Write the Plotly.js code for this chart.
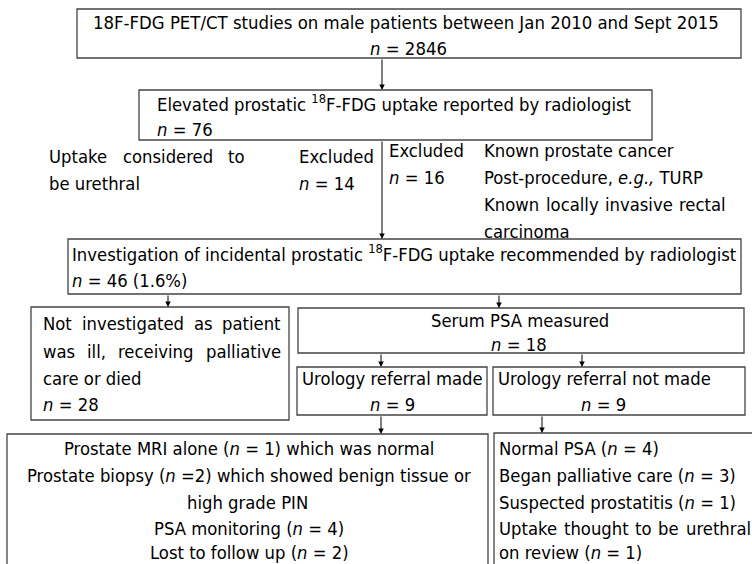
<!DOCTYPE html>
<html><head><meta charset="utf-8">
<script src="https://cdn.plot.ly/plotly-3.0.1.min.js"></script>
<style>html,body{margin:0;padding:0;background:#fff;}</style>
</head><body>
<div id="chart" style="width:752px;height:564px;"></div>
<svg id="meas" width="10" height="10" style="position:absolute;left:-1000px;top:-1000px"><text id="mt" x="0" y="10"></text></svg>
<script>
const totalStudies = 2846;
const elevatedUptake = 76;
const excludedUrethral = 14;
const excludedOther = 16;
const exclusionReasons = ["Known prostate cancer", "Post-procedure, <i>e.g.,</i> TURP", "Known locally invasive rectal", "carcinoma"];
const investigationRecommended = 46;
const investigationPct = "1.6%";
const notInvestigated = 28;
const psaMeasured = 18;
const referralMade = 9;
const referralNotMade = 9;
const referralOutcomeCounts = [1, 2, 4, 2];   // MRI alone, biopsy, PSA monitoring, lost to follow up
const noReferralCounts = [4, 3, 1, 1];        // normal PSA, palliative care, prostatitis, urethral on review

// ---- styling ----
const FAM = '"DejaVu Sans Condensed", "DejaVu Sans", sans-serif';
const SIZE = 18.3;
const TOPSIZE = 18.4;
const BOX = '#444';
const mt = document.getElementById('mt');
mt.setAttribute('style', 'font-family:' + FAM + ';font-size:' + SIZE + 'px');
function measure(s) { mt.textContent = s; return mt.getComputedTextLength(); }

const N = '<i>n</i>';
function txt(x, y, text, anchor, size) {
  return {x: x, y: y, xref: 'x', yref: 'y', text: text, showarrow: false,
          xanchor: anchor || 'left', yanchor: 'middle', borderpad: 0,
          font: {family: FAM, size: size || SIZE, color: '#000'}};
}
function justify(line, x0, x1, y) {
  const words = line.split(' ');
  const w = words.map(measure);
  const total = w.reduce((a, b) => a + b, 0);
  const gap = (x1 - x0 - total) / (words.length - 1);
  let x = x0;
  return words.map((wd, i) => { const a = txt(x, y, wd, 'left'); x += w[i] + gap; return a; });
}
function arrow(x, y0, y1) {
  return {x: x, y: y1, ax: x, ay: y0, xref: 'x', yref: 'y', axref: 'x', ayref: 'y',
          text: '', showarrow: true, arrowhead: 2, arrowsize: 1.1, arrowwidth: 1,
          arrowcolor: '#000', standoff: 0, startstandoff: 0};
}
function rect(x0, y0, x1, y1) {
  return {type: 'rect', xref: 'x', yref: 'y', x0: x0, y0: y0, x1: x1, y1: y1,
          line: {color: BOX, width: 1.3}, fillcolor: 'rgba(0,0,0,0)'};
}

const shapes = [
  rect(77, 9, 741, 58),
  rect(139, 90, 652, 140),
  rect(68, 239, 741, 294),
  rect(31, 307, 289, 420),
  rect(298, 308, 744, 353),
  rect(297, 367, 487, 415),
  rect(493, 367, 745, 415),
  rect(7, 434, 488, 580),
  rect(494, 433, 770, 580)
];

let ann = [];
// box 1
ann.push(txt(406, 22, '18F-FDG PET/CT studies on male patients between Jan 2010 and Sept 2015', 'center', TOPSIZE));
ann.push(txt(408, 48, N + ' = ' + totalStudies, 'center', TOPSIZE));
// box 2
ann.push(txt(156, 103, 'Elevated prostatic <sup>18</sup>F-FDG uptake reported by radiologist'));
ann.push(txt(156, 129, N + ' = ' + elevatedUptake));
// exclusions
ann = ann.concat(justify('Uptake considered to', 48, 244, 156));
ann.push(txt(48, 183, 'be urethral'));
ann.push(txt(298, 156, 'Excluded'));
ann.push(txt(298, 183, N + ' = ' + excludedUrethral));
ann.push(txt(388, 150, 'Excluded'));
ann.push(txt(388, 177, N + ' = ' + excludedOther));
ann.push(txt(483, 150, exclusionReasons[0]));
ann.push(txt(483, 177, exclusionReasons[1]));
ann = ann.concat(justify(exclusionReasons[2], 483, 725, 204));
ann.push(txt(483, 231, exclusionReasons[3]));
// box 3
ann.push(txt(71, 253, 'Investigation of incidental prostatic <sup>18</sup>F-FDG uptake recommended by radiologist'));
ann.push(txt(71, 280, N + ' = ' + investigationRecommended + ' (' + investigationPct + ')'));
// not investigated
ann = ann.concat(justify('Not investigated as patient', 42, 280, 323));
ann = ann.concat(justify('was ill, receiving palliative', 42, 280, 351));
ann.push(txt(42, 378, 'care or died'));
ann.push(txt(42, 404, N + ' = ' + notInvestigated));
// PSA
ann.push(txt(520, 320, 'Serum PSA measured', 'center'));
ann.push(txt(519, 344, N + ' = ' + psaMeasured, 'center'));
ann.push(txt(392, 378, 'Urology referral made', 'center'));
ann.push(txt(392, 404, N + ' = ' + referralMade, 'center'));
ann.push(txt(604, 378, 'Urology referral not made', 'center'));
ann.push(txt(603, 404, N + ' = ' + referralNotMade, 'center'));
// referral outcomes
const rc = referralOutcomeCounts;
ann.push(txt(249, 448, 'Prostate MRI alone (' + N + ' = ' + rc[0] + ') which was normal', 'center'));
ann.push(txt(249, 475, 'Prostate biopsy (' + N + ' =' + rc[1] + ') which showed benign tissue or', 'center'));
ann.push(txt(247, 502, 'high grade PIN', 'center'));
ann.push(txt(249, 528, 'PSA monitoring (' + N + ' = ' + rc[2] + ')', 'center'));
ann.push(txt(249, 552, 'Lost to follow up (' + N + ' = ' + rc[3] + ')', 'center'));
// no referral
const nc = noReferralCounts;
ann.push(txt(498, 448, 'Normal PSA (' + N + ' = ' + nc[0] + ')'));
ann.push(txt(498, 475, 'Began palliative care (' + N + ' = ' + nc[1] + ')'));
ann.push(txt(498, 502, 'Suspected prostatitis (' + N + ' = ' + nc[2] + ')'));
ann = ann.concat(justify('Uptake thought to be urethral', 498, 750, 528));
ann.push(txt(498, 552, 'on review (' + N + ' = ' + nc[3] + ')'));
// arrows
ann.push(arrow(382, 58, 90));
ann.push(arrow(382, 140, 239));
ann.push(arrow(168, 294, 307));
ann.push(arrow(499, 294, 308));
ann.push(arrow(381, 353, 367));
ann.push(arrow(582, 353, 367));
ann.push(arrow(381, 415, 434));
ann.push(arrow(542, 415, 433));

// remove the off-screen measuring element
document.getElementById('meas').remove();

const layout = {
  width: 752, height: 564,
  margin: {l: 0, r: 0, t: 0, b: 0},
  paper_bgcolor: '#fff', plot_bgcolor: '#fff',
  xaxis: {range: [0, 752], visible: false, fixedrange: true},
  yaxis: {range: [564, 0], visible: false, fixedrange: true},
  showlegend: false,
  shapes: shapes,
  annotations: ann
};
Plotly.newPlot('chart', [{x: [], y: [], type: 'scatter', mode: 'markers', hoverinfo: 'skip'}], layout, {staticPlot: true, displayModeBar: false});
</script>
</body></html>
